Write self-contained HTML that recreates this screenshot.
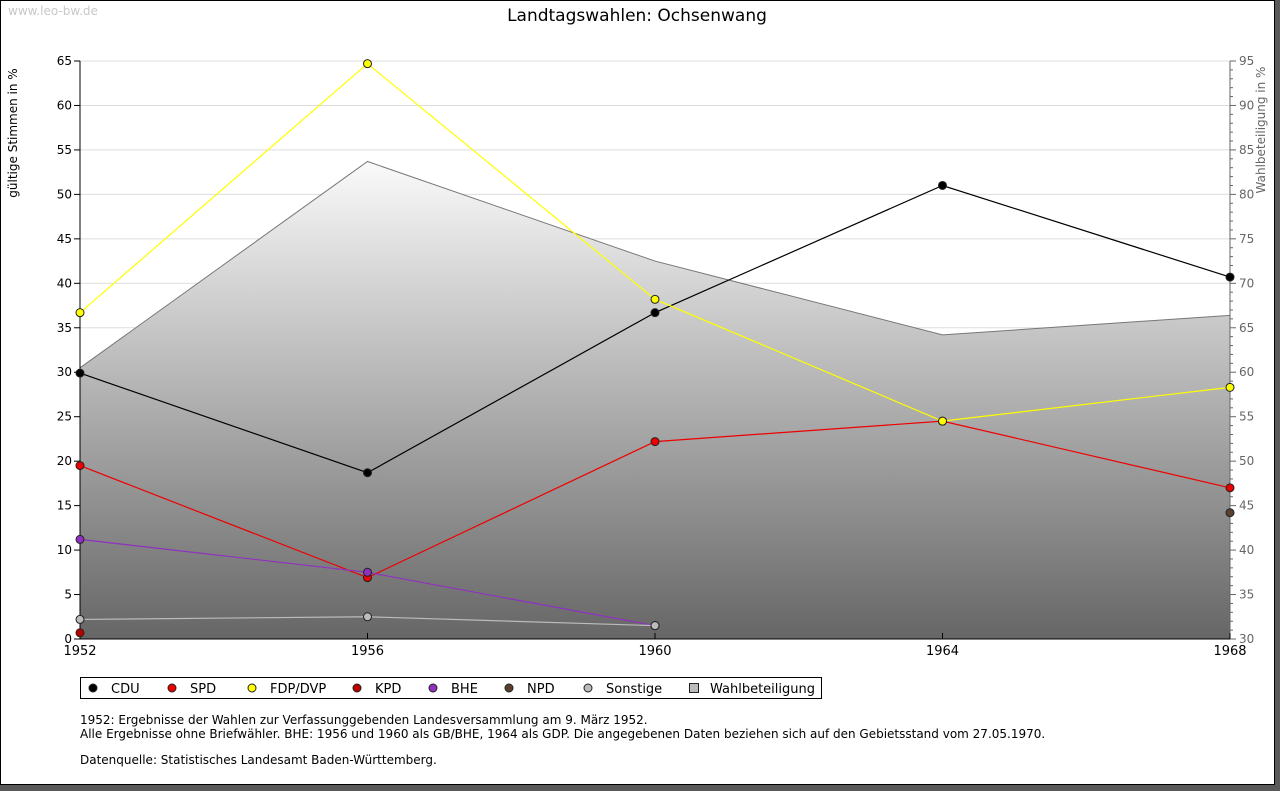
<!DOCTYPE html>
<html><head><meta charset="utf-8"><style>
body{margin:0;background:#fff;font-family:"DejaVu Sans","Liberation Sans",sans-serif;}
svg text{font-family:"DejaVu Sans","Liberation Sans",sans-serif;}
</style></head><body>
<svg id="c" width="1280" height="791" xmlns="http://www.w3.org/2000/svg">
<defs><linearGradient id="g" x1="0" y1="0" x2="0" y2="1"><stop offset="0" stop-color="#fafafa"/><stop offset="1" stop-color="#666"/></linearGradient></defs>
<rect x="0" y="0" width="1280" height="791" fill="#5a5a5a"/>
<rect x="0.5" y="0.5" width="1274" height="784" fill="#fff" stroke="#000"/>
<text x="8" y="15" font-size="12" fill="#c8c8c8">www.leo-bw.de</text>
<text x="637" y="21" font-size="17" text-anchor="middle">Landtagswahlen: Ochsenwang</text>
<text transform="translate(17,133) rotate(-90)" font-size="12" text-anchor="middle">gültige Stimmen in %</text>
<text transform="translate(1265,130) rotate(-90)" font-size="12" fill="#666" text-anchor="middle">Wahlbeteiligung in %</text>
<g id="grid"></g><g id="area"></g><g id="axes"></g><g id="series"></g>
<g>
<rect x="80.5" y="677.5" width="741" height="21" fill="#fff" stroke="#000"/>
<g id="leg"></g></g>
<text x="80" y="724" font-size="12">1952: Ergebnisse der Wahlen zur Verfassunggebenden Landesversammlung am 9. März 1952.</text>
<text x="80" y="738" font-size="12">Alle Ergebnisse ohne Briefwähler. BHE: 1956 und 1960 als GB/BHE, 1964 als GDP. Die angegebenen Daten beziehen sich auf den Gebietsstand vom 27.05.1970.</text>
<text x="80" y="764" font-size="12">Datenquelle: Statistisches Landesamt Baden-Württemberg.</text>
</svg>
<script>
const years=[1952,1956,1960,1964,1968];
const cdu=[29.9,18.7,36.7,51.0,40.7];
const spd=[19.5,6.9,22.2,24.5,17.0];
const fdp=[36.7,64.7,38.2,24.5,28.3];
const kpd=[0.7,null,null,null,null];
const bhe=[11.2,7.5,1.5,null,null];
const npd=[null,null,null,null,14.2];
const sonst=[2.2,2.5,1.5,null,null];
const turnout=[60.5,83.7,72.5,64.2,66.4];
const leftTicks=[0,5,10,15,20,25,30,35,40,45,50,55,60,65];
const rightTicks=[30,35,40,45,50,55,60,65,70,75,80,85,90,95];
const NS='http://www.w3.org/2000/svg';
const X0=80,X1=1230,Y0=639,Y1=61;
const x=v=>X0+(v-1952)/(1968-1952)*(X1-X0);
const y=v=>Y0-v/65*(Y0-Y1);
const y2=v=>Y0-(v-30)/65*(Y0-Y1);
function mk(t,a,p){const e=document.createElementNS(NS,t);for(const k in a)e.setAttribute(k,a[k]);p.appendChild(e);return e;}
const grid=document.getElementById('grid'),axes=document.getElementById('axes'),area=document.getElementById('area'),ser=document.getElementById('series'),leg=document.getElementById('leg');
leftTicks.forEach(t=>{if(t>0){const l=mk('line',{x1:X0,x2:X1,y1:y(t),y2:y(t),stroke:'#ddd'},grid);}
mk('line',{x1:X0-6,x2:X0,y1:y(t),y2:y(t),stroke:'#000'},axes);
const tx=mk('text',{x:X0-8,y:y(t)+4,'font-size':12,'text-anchor':'end'},axes);tx.textContent=t;
});
rightTicks.forEach(t=>{mk('line',{x1:X1,x2:X1+6,y1:y2(t),y2:y2(t),stroke:'#666'},axes);
const tx=mk('text',{x:X1+9,y:y2(t)+4,'font-size':12,fill:'#666'},axes);tx.textContent=t;
});
for(let v=31;v<95;v++){if(v%5)mk('line',{x1:X1,x2:X1+3,y1:y2(v),y2:y2(v),stroke:'#666'},axes);}
// area
let d='M'+x(years[0])+','+Y0;years.forEach((yr,i)=>d+=' L'+x(yr)+','+y2(turnout[i]));d+=' L'+x(years[years.length-1])+','+Y0+' Z';
const ar=mk('path',{d:d,fill:'url(#g)'},area);
const tl=mk('polyline',{points:years.map((yr,i)=>x(yr)+','+y2(turnout[i])).join(' '),fill:'none',stroke:'#777'},area);

mk('line',{x1:X0,x2:X0,y1:Y1,y2:Y0,stroke:'#000'},axes);
mk('line',{x1:X1,x2:X1,y1:Y1,y2:Y0,stroke:'#666'},axes);
mk('line',{x1:X0,x2:X1,y1:Y0,y2:Y0,stroke:'#000'},axes);
years.forEach(yr=>{mk('line',{x1:x(yr),x2:x(yr),y1:Y0-6,y2:Y0,stroke:'#000'},axes);
const tx=mk('text',{x:x(yr),y:Y0+16,'font-size':13,'text-anchor':'middle'},axes);tx.textContent=yr;
});
const series=[['cdu',cdu,'#000','#000'],['spd',spd,'#e00','#e00'],['fdp',fdp,'#ff0','#ff0'],['kpd',kpd,'#b00','#b00'],['bhe',bhe,'#9030c0','#9030c0'],['npd',npd,'#5a4030','#5a4030'],['sonstige',sonst,'#bbb','#bbb']];
series.forEach(([n,vals,col,fill])=>{
let seg=[];const segs=[];vals.forEach((v,i)=>{if(v==null){if(seg.length)segs.push(seg);seg=[];}else seg.push(x(years[i])+','+y(v));});if(seg.length)segs.push(seg);
segs.forEach(s=>{if(s.length>1){const p=mk('polyline',{points:s.join(' '),fill:'none',stroke:col,'stroke-width':1.2},ser);
}});
vals.forEach((v,i)=>{if(v==null)return;const c=mk('circle',{cx:x(years[i]),cy:y(v),r:4,fill:fill,stroke:'#222','stroke-width':1},ser);
});});
const legItems=[['CDU','#000',93],['SPD','#e00',172],['FDP/DVP','#ff0',252],['KPD','#b00',357],['BHE','#9030c0',433],['NPD','#5a4030',509],['Sonstige','#bbb',588]];
legItems.forEach(([t,c,px])=>{const m=mk('circle',{cx:px,cy:688,r:4,fill:c,stroke:'#222'},leg);

const tx=mk('text',{x:px+18,y:693,'font-size':13},leg);tx.textContent=t;
});
const sq=mk('rect',{x:689.5,y:683.5,width:9,height:9,fill:'#bbb',stroke:'#222'},leg);

const wt=mk('text',{x:710,y:693,'font-size':13},leg);wt.textContent='Wahlbeteiligung';

</script>
</body></html>
